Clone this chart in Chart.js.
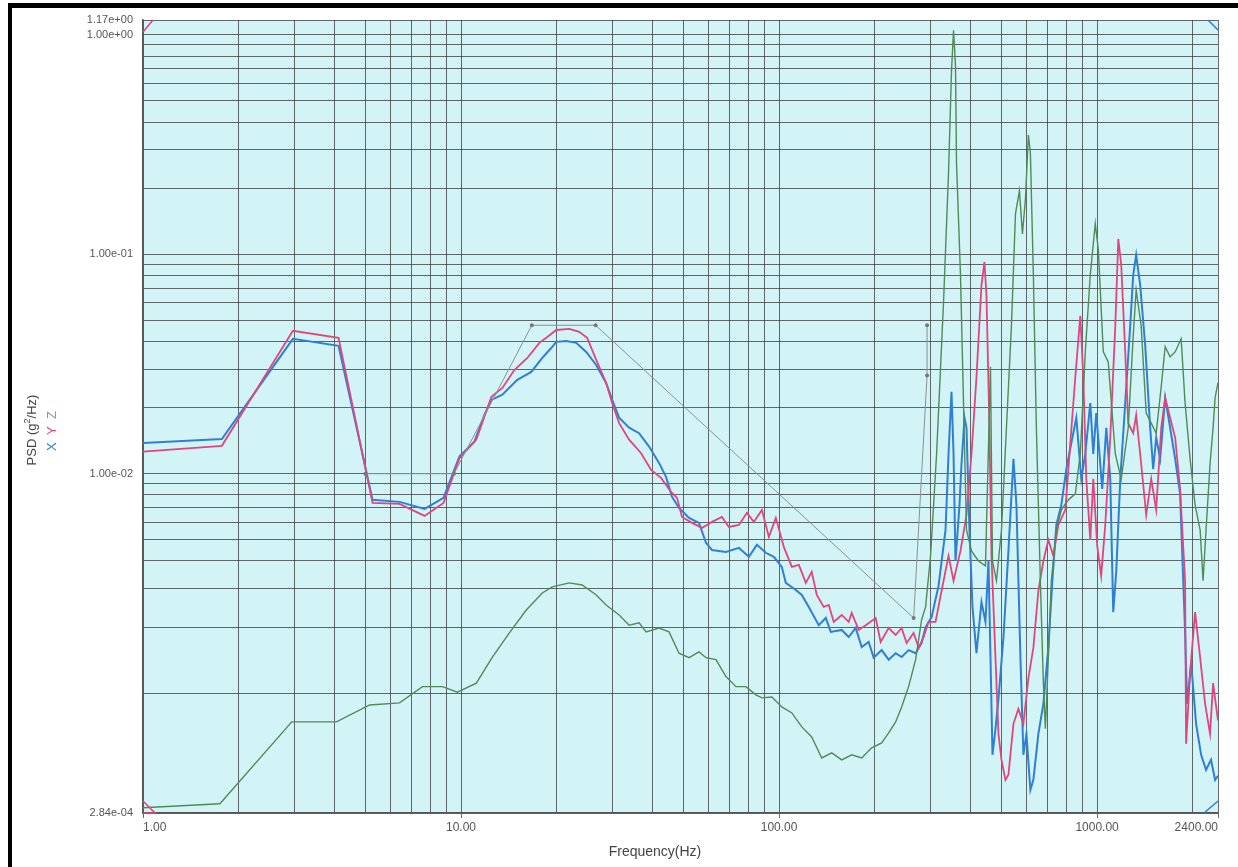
<!DOCTYPE html>
<html>
<head>
<meta charset="utf-8">
<title>PSD</title>
<script src="https://cdn.jsdelivr.net/npm/chart.js@4.4.1/dist/chart.umd.min.js"></script>
<style>
  body { margin: 0; background: #fff; }
  #wrap { position: relative; width: 1238px; height: 867px; overflow: hidden; }
  #chart { position: absolute; left: 0; top: 0; }
  #frame { position: absolute; left: 8px; top: 3px; right: 0; bottom: 0; border-top: 5px solid #000; border-left: 4px solid #000; pointer-events: none; }
  .vlabel { position: absolute; transform: translate(-50%, -50%) rotate(-90deg); font-family: 'Liberation Sans', Arial, sans-serif; font-size: 13px; white-space: nowrap; color: #444; }
  .vlabel sup { font-size: 9px; line-height: 0; }
  #xtitle { position: absolute; left: 655px; top: 851px; transform: translate(-50%, -50%); font-family: 'Liberation Sans', Arial, sans-serif; font-size: 14px; color: #444; white-space: nowrap; }
</style>
</head>
<body>
<div id="wrap">
  <canvas id="chart" width="1238" height="867"></canvas>
  <div id="frame"></div>
  <div class="vlabel" style="left:31px; top:430px;">PSD (g<sup>2</sup>/Hz)</div>
  <div class="vlabel" style="left:51px; top:430px; letter-spacing:2px;"><span style="color:#2f7fd3">X</span> <span style="color:#e2457d">Y</span> <span style="color:#8a9c9c">Z</span></div>
  <div id="xtitle">Frequency(Hz)</div>
</div>
<script>
// X axis (blue)
const freqX = [1.00, 1.77, 2.96, 4.12, 5.27, 6.41, 7.68, 8.81, 9.89, 11.02, 11.84, 12.46, 13.49, 15.03, 16.63, 18.01, 19.21, 19.93, 21.42, 23.03,
  24.75, 26.61, 28.60, 29.87, 31.42, 33.77, 36.30, 39.02, 41.94, 44.12, 46.07, 48.47, 52.12, 56.01, 58.92, 61.52, 68.08, 74.79, 80.39, 85.18,
  90.88, 96.30, 102.0, 105.0, 112.9, 117.9, 124.0, 133.3, 140.3, 145.4, 157.4, 165.6, 174.2, 181.9, 191.3, 198.4, 210.2, 221.1, 232.6, 242.9,
  255.5, 268.8, 280.7, 288.9, 301.7, 317.3, 333.8, 341.1, 348.5, 353.7, 358.8, 369.3, 374.7, 383.0, 388.5, 397.0, 405.7, 417.6, 433.0, 445.7,
  455.5, 462.2, 468.9, 479.2, 489.7, 507.7, 526.3, 545.8, 557.7, 574.1, 586.6, 599.5, 617.0, 630.5, 653.7, 677.8, 702.7, 723.4, 744.6, 772.0,
  800.5, 829.9, 860.4, 892.1, 918.2, 951.9, 972.8, 994.0, 1023, 1038, 1069, 1100, 1124, 1149, 1183, 1226, 1271, 1299, 1327, 1366,
  1417, 1469, 1501, 1534, 1579, 1637, 1697, 1760, 1824, 1891, 1919, 1976, 2048, 2124, 2201, 2282, 2350, 2400];
const psdX = [0.0138, 0.0144, 0.0412, 0.0383, 0.0076, 0.00744, 0.00691, 0.00776, 0.0120, 0.0140, 0.0185, 0.0217, 0.0229, 0.0268, 0.0291, 0.0337, 0.0374, 0.0399, 0.0403, 0.0395,
  0.0359, 0.0313, 0.0259, 0.0217, 0.0180, 0.0162, 0.0153, 0.0133, 0.0112, 0.00967, 0.00784, 0.00698, 0.00629, 0.00597, 0.00484, 0.00449, 0.00440, 0.00459, 0.00418, 0.00474,
  0.00436, 0.00418, 0.00376, 0.00318, 0.00295, 0.00280, 0.00247, 0.00204, 0.00220, 0.00190, 0.00194, 0.00180, 0.00198, 0.00162, 0.00171, 0.00145, 0.00157, 0.00142, 0.00152, 0.00146,
  0.00157, 0.00152, 0.00169, 0.00200, 0.00222, 0.00308, 0.00554, 0.0123, 0.0236, 0.0123, 0.00400, 0.00721, 0.0111, 0.0180, 0.0162, 0.00554, 0.00247, 0.00152, 0.00260, 0.00211,
  0.00400, 0.00145, 0.000523, 0.000687, 0.000941, 0.00180, 0.00445, 0.0117, 0.00721, 0.00145, 0.000523, 0.000652, 0.000362, 0.000402, 0.000652, 0.000893, 0.00161, 0.00325, 0.00584, 0.00721,
  0.0105, 0.0138, 0.0180, 0.00947, 0.0123, 0.0210, 0.0123, 0.0189, 0.0111, 0.00852, 0.0162, 0.00947, 0.00234, 0.00360, 0.00947, 0.0210, 0.0472, 0.0805, 0.0994, 0.0725,
  0.0383, 0.0162, 0.0105, 0.0146, 0.0117, 0.0222, 0.0162, 0.0117, 0.00809, 0.00190, 0.000893, 0.00137, 0.000724, 0.000523, 0.000447, 0.000496, 0.000402, 0.00042];

// Y axis (pink)
const freqY = [1.00, 1.77, 2.96, 4.12, 5.27, 6.41, 7.68, 8.81, 9.89, 11.17, 12.46, 13.49, 14.71, 16.16, 17.63, 18.67, 19.93, 21.89, 23.53, 24.93,
  26.61, 28.60, 29.87, 31.42, 33.77, 36.83, 39.60, 42.56, 45.75, 47.78, 49.54, 53.24, 57.23, 61.52, 66.13, 69.56, 74.79, 79.23, 83.33, 88.31,
  92.88, 97.7, 103.5, 109.7, 115.4, 121.4, 126.7, 131.4, 138.2, 143.3, 148.6, 157.4, 165.6, 169.2, 178.0, 187.3, 201.3, 208.7, 221.1, 232.6,
  242.9, 251.8, 264.9, 274.7, 284.7, 295.2, 310.5, 324.3, 341.1, 353.7, 372.0, 388.5, 402.8, 417.6, 433.0, 442.5, 449.0, 458.7, 465.5, 479.2,
  489.7, 500.5, 515.1, 526.3, 545.8, 565.6, 586.6, 608.1, 630.5, 653.7, 677.8, 702.7, 728.7, 755.4, 794.7, 823.9, 854.2, 885.6, 904.9, 924.9,
  951.9, 972.8, 1001, 1030, 1061, 1100, 1141, 1166, 1191, 1226, 1253, 1299, 1327, 1376, 1427, 1480, 1534, 1591, 1637, 1697,
  1760, 1824, 1891, 1905, 1961, 2033, 2109, 2186, 2266, 2316, 2350, 2400];
const psdY = [0.0126, 0.0134, 0.0448, 0.0416, 0.00736, 0.00728, 0.00642, 0.00736, 0.0118, 0.0143, 0.0224, 0.0246, 0.0297, 0.0337, 0.0395, 0.0420, 0.0452, 0.0457, 0.0443, 0.0416,
  0.0330, 0.0259, 0.0210, 0.0170, 0.0143, 0.0124, 0.0104, 0.00957, 0.00826, 0.00776, 0.00635, 0.00597, 0.00566, 0.00603, 0.00635, 0.00572, 0.00584, 0.00663, 0.00603, 0.00684,
  0.00515, 0.00629, 0.00464, 0.00376, 0.00384, 0.00318, 0.00357, 0.00280, 0.00247, 0.00252, 0.00211, 0.00227, 0.00211, 0.00232, 0.00194, 0.00204, 0.00220, 0.00171, 0.00198, 0.00184,
  0.00198, 0.00169, 0.00188, 0.00161, 0.00180, 0.00211, 0.00211, 0.00292, 0.00422, 0.00325, 0.00445, 0.00649, 0.0123, 0.0276, 0.0725, 0.0923, 0.0646, 0.0162, 0.00422, 0.00145,
  0.000652, 0.000496, 0.000402, 0.000424, 0.000724, 0.000847, 0.000724, 0.00117, 0.00161, 0.00292, 0.00400, 0.00499, 0.00422, 0.00584, 0.00684, 0.0138, 0.0276, 0.0524, 0.0276, 0.00947,
  0.00499, 0.00947, 0.00469, 0.00342, 0.00584, 0.0146, 0.0472, 0.1175, 0.0894, 0.0359, 0.0170, 0.0153, 0.0185, 0.0111, 0.00649, 0.00947, 0.00684, 0.0162, 0.0222, 0.0180,
  0.0146, 0.00852, 0.00325, 0.000587, 0.00124, 0.00234, 0.00145, 0.000893, 0.000652, 0.00111, 0.000941, 0.00075];

// Z axis (green)
const freqZ = [1.00, 1.745, 2.936, 4.06, 5.16, 6.41, 7.56, 8.74, 9.74, 11.17, 12.55, 14.19, 16.04, 18.01, 19.36, 21.89, 24.04, 26.61, 28.60, 31.42,
  33.77, 36.30, 38.19, 41.94, 45.09, 48.47, 52.12, 56.01, 58.92, 63.34, 68.08, 73.18, 78.66, 84.57, 88.31, 94.93, 102.0, 109.7, 117.9, 126.7,
  136.2, 146.4, 157.4, 169.2, 181.9, 195.6, 210.2, 221.1, 232.6, 242.9, 255.5, 268.8, 280.7, 288.9, 299.5, 312.9, 329.1, 341.1, 348.5, 353.7,
  358.8, 361.4, 372.0, 380.2, 388.5, 402.8, 423.7, 445.7, 462.2, 468.9, 482.6, 500.5, 518.8, 537.9, 553.8, 570.0, 582.5, 595.3, 608.1, 617.0,
  630.5, 644.3, 663.2, 677.8, 687.7, 702.7, 718.1, 744.6, 772.0, 812.2, 854.2, 885.6, 918.2, 951.9, 986.9, 1009, 1046, 1084, 1141, 1191,
  1253, 1299, 1327, 1376, 1427, 1480, 1534, 1591, 1637, 1697, 1760, 1838, 1891, 1961, 2033, 2109, 2154, 2201, 2266, 2316,
  2350, 2400];
const psdZ = [0.000300, 0.000313, 0.000739, 0.000739, 0.000883, 0.000902, 0.00107, 0.00107, 0.00101, 0.00111, 0.00146, 0.00188, 0.00239, 0.00286, 0.00305, 0.00318, 0.00311, 0.00280, 0.00252, 0.00227,
  0.00204, 0.00209, 0.00190, 0.00198, 0.00190, 0.00152, 0.00145, 0.00154, 0.00145, 0.00142, 0.00119, 0.00107, 0.00107, 0.000981, 0.000951, 0.000960, 0.000865, 0.000812, 0.000701, 0.000631,
  0.000506, 0.000534, 0.000496, 0.000523, 0.000506, 0.000563, 0.000593, 0.000658, 0.000739, 0.000865, 0.00107, 0.00142, 0.00216, 0.00247, 0.00422, 0.0123, 0.0613, 0.235, 0.685, 1.05,
  0.722, 0.261, 0.0805, 0.0210, 0.00554, 0.00445, 0.00400, 0.00380, 0.0307, 0.00400, 0.00325, 0.00554, 0.0162, 0.0472, 0.153, 0.195, 0.124, 0.179, 0.350, 0.290,
  0.0805, 0.0162, 0.00325, 0.00111, 0.000687, 0.00145, 0.00325, 0.00554, 0.00684, 0.00760, 0.00809, 0.0123, 0.0359, 0.0805, 0.138, 0.105, 0.0359, 0.0323, 0.0123, 0.00947,
  0.0162, 0.0425, 0.0688, 0.0472, 0.0189, 0.0170, 0.0153, 0.0249, 0.0379, 0.0341, 0.0359, 0.0412, 0.0210, 0.0117, 0.00721, 0.00554, 0.00325, 0.00554, 0.0111, 0.0162,
  0.0222, 0.0260];

// reference profile (gray)
const specFreq = [5.0, 9.5, 16.7, 26.5, 265, 292, 292];
const specPsd = [0.01, 0.01, 0.0475, 0.0475, 0.0022, 0.028, 0.0475];

// grid lines and labels
const xTickValues = [1, 2, 3, 4, 5, 6, 7, 8, 9, 10, 20, 30, 40, 50, 60, 70, 80, 90,
  100, 200, 300, 400, 500, 600, 700, 800, 900, 1000, 2000, 2400];
const xLabelValues = [1, 10, 100, 1000, 2400];
const yTickValues = [0.000284, 0.001, 0.002, 0.003, 0.004, 0.005, 0.006, 0.007, 0.008, 0.009,
  0.01, 0.02, 0.03, 0.04, 0.05, 0.06, 0.07, 0.08, 0.09,
  0.1, 0.2, 0.3, 0.4, 0.5, 0.6, 0.7, 0.8, 0.9, 1, 1.17];
const yLabelValues = [0.000284, 0.01, 0.1, 1, 1.17];

const toPoints = (xs, ys) => xs.map((x, i) => ({ x: x, y: ys[i] }));
const inList = (v, list) => list.some(l => Math.abs(v - l) / l < 1e-6);
const fmtExp = (v) => {
  const parts = v.toExponential(2).split('e');
  const n = parseInt(parts[1], 10);
  return parts[0] + 'e' + (n < 0 ? '-' : '+') + String(Math.abs(n)).padStart(2, '0');
};

const plotBackground = {
  id: 'plotBackground',
  beforeDraw(chart) {
    const { ctx, chartArea: a } = chart;
    ctx.save();
    ctx.fillStyle = '#d2f4f7';
    ctx.fillRect(a.left, a.top, a.right - a.left, a.bottom - a.top);
    ctx.restore();
  }
};

// small scale marks in the plot corners and short ticks under labelled frequencies
const cornerMarks = {
  id: 'cornerMarks',
  afterDraw(chart) {
    const { ctx, chartArea: a } = chart;
    const xs = chart.scales.x;
    ctx.save();
    ctx.lineWidth = 1;
    ctx.strokeStyle = '#666';
    ctx.beginPath();
    xLabelValues.forEach(v => {
      const px = Math.round(xs.getPixelForValue(v)) + 0.5;
      ctx.moveTo(px, a.bottom); ctx.lineTo(px, a.bottom + 5);
    });
    ctx.stroke();
    ctx.lineWidth = 1.5;
    ctx.strokeStyle = '#e2457d';
    ctx.beginPath();
    ctx.moveTo(a.left, a.top + 12); ctx.lineTo(a.left + 10, a.top);
    ctx.moveTo(a.left, a.bottom - 12); ctx.lineTo(a.left + 12, a.bottom); ctx.lineTo(a.left, a.bottom);
    ctx.stroke();
    ctx.strokeStyle = '#2f7fd3';
    ctx.beginPath();
    ctx.moveTo(a.right - 10, a.top); ctx.lineTo(a.right, a.top + 10);
    ctx.moveTo(a.right - 14, a.bottom); ctx.lineTo(a.right, a.bottom - 12);
    ctx.stroke();
    ctx.restore();
  }
};

const gridStyle = { color: 'rgba(55,55,55,0.75)', lineWidth: 1, drawTicks: false };
const borderStyle = { display: true, color: '#555', width: 1.5 };

new Chart(document.getElementById('chart'), {
  type: 'line',
  data: {
    datasets: [
      { label: 'Spec', data: toPoints(specFreq, specPsd), borderColor: '#8f8f8f', borderWidth: 1,
        pointRadius: 2, pointBackgroundColor: '#777', pointBorderWidth: 0 },
      { label: 'Z', data: toPoints(freqZ, psdZ), borderColor: '#4f8b57', borderWidth: 1.4, pointRadius: 0 },
      { label: 'Y', data: toPoints(freqY, psdY), borderColor: '#e2457d', borderWidth: 1.8, pointRadius: 0 },
      { label: 'X', data: toPoints(freqX, psdX), borderColor: '#2f7fd3', borderWidth: 2, pointRadius: 0 }
    ]
  },
  options: {
    responsive: false,
    animation: false,
    devicePixelRatio: 1,
    layout: { padding: { left: 10, right: 20, top: 20, bottom: 0 } },
    elements: { line: { tension: 0, fill: false } },
    plugins: { legend: { display: false }, tooltip: { enabled: false } },
    scales: {
      x: {
        type: 'logarithmic',
        min: 1,
        max: 2400,
        afterBuildTicks: (s) => { s.ticks = xTickValues.map(v => ({ value: v })); },
        afterFit: (s) => { s.height = 54; },
        grid: gridStyle,
        border: borderStyle,
        ticks: {
          autoSkip: false,
          maxRotation: 0,
          align: 'inner',
          padding: 7,
          color: '#555',
          font: { family: "'Liberation Sans', Arial, sans-serif", size: 12 },
          callback: (v) => inList(v, xLabelValues) ? Number(v).toFixed(2) : ''
        }
      },
      y: {
        type: 'logarithmic',
        min: 0.000284,
        max: 1.17,
        afterBuildTicks: (s) => { s.ticks = yTickValues.map(v => ({ value: v })); },
        afterFit: (s) => { s.width = 133; },
        grid: gridStyle,
        border: borderStyle,
        ticks: {
          autoSkip: false,
          padding: 10,
          color: '#555',
          font: { family: "'Liberation Sans', Arial, sans-serif", size: 11 },
          callback: (v) => inList(v, yLabelValues) ? fmtExp(Number(v)) : ''
        }
      }
    }
  },
  plugins: [plotBackground, cornerMarks]
});
</script>
</body>
</html>
